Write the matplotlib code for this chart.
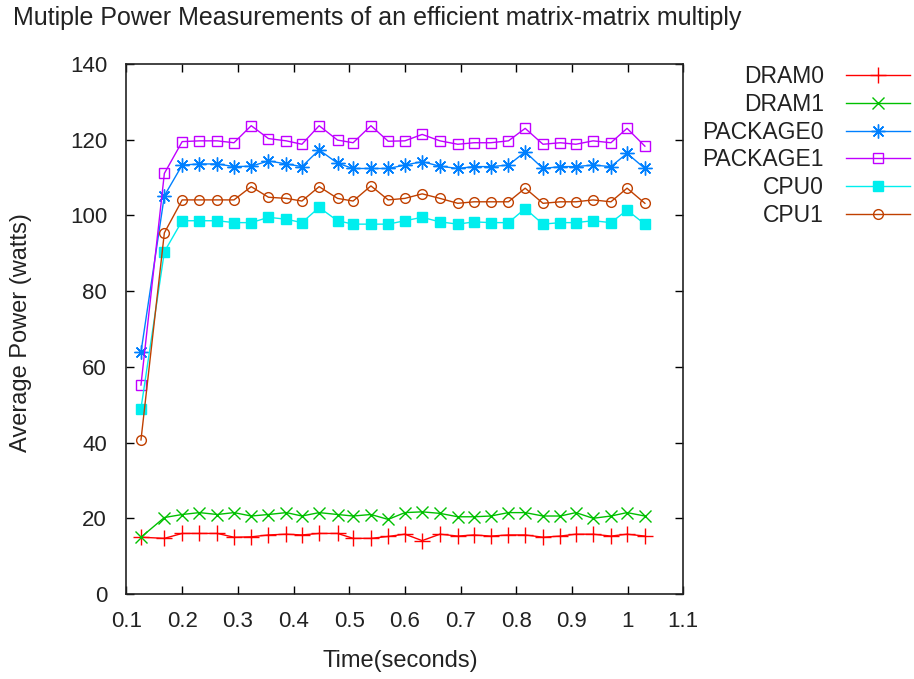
import matplotlib
matplotlib.use("Agg")
import matplotlib.pyplot as plt

plt.rcParams['font.family'] = ['Liberation Sans', 'DejaVu Sans']

time_s = [0.126, 0.168, 0.200, 0.231, 0.263, 0.293, 0.324, 0.355, 0.387, 0.415,
          0.446, 0.479, 0.507, 0.539, 0.570, 0.600, 0.631, 0.663, 0.695, 0.724,
          0.754, 0.786, 0.816, 0.848, 0.879, 0.907, 0.938, 0.970, 0.999, 1.031]

dram0 = [15.0, 14.7, 16.0, 16.0, 16.0, 15.0, 15.1, 15.6, 15.8, 15.6,
         16.0, 16.0, 14.7, 14.7, 15.2, 15.8, 14.1, 15.8, 15.3, 15.6,
         15.3, 15.6, 15.6, 15.0, 15.3, 15.8, 15.8, 15.3, 15.8, 15.3]

dram1 = [15.0, 20.2, 21.0, 21.5, 21.0, 21.5, 20.6, 21.0, 21.5, 20.6,
         21.5, 21.0, 20.6, 21.0, 19.7, 21.5, 21.7, 21.3, 20.4, 20.4,
         20.6, 21.5, 21.5, 20.6, 20.6, 21.5, 20.0, 20.6, 21.5, 20.6]

package0 = [63.9, 105.2, 113.3, 113.6, 113.6, 112.9, 113.0, 114.4, 113.6, 112.9,
            117.3, 113.8, 112.4, 112.4, 112.4, 113.3, 114.2, 113.0, 112.4, 112.9,
            112.9, 113.3, 116.8, 112.4, 112.9, 112.9, 113.3, 112.9, 116.4, 112.4]

package1 = [55.2, 111.1, 119.5, 119.7, 119.7, 119.2, 123.7, 120.3, 119.7, 118.8,
            123.7, 119.9, 119.2, 123.7, 119.6, 119.7, 121.4, 119.7, 118.8, 119.2,
            119.2, 119.7, 123.0, 118.8, 119.2, 118.8, 119.7, 119.2, 123.0, 118.3]

cpu0 = [49.0, 90.4, 98.6, 98.6, 98.6, 98.1, 98.1, 99.5, 99.0, 98.1,
        102.1, 98.6, 97.7, 97.7, 97.7, 98.6, 99.5, 98.3, 97.7, 98.3,
        98.1, 98.1, 101.8, 97.7, 98.1, 98.1, 98.6, 98.1, 101.4, 97.7]

cpu1 = [40.7, 95.4, 104.1, 104.1, 104.1, 104.1, 107.6, 104.8, 104.5, 103.8,
        107.6, 104.5, 103.8, 107.8, 104.1, 104.5, 105.7, 104.5, 103.2, 103.6,
        103.6, 103.6, 107.2, 103.2, 103.6, 103.6, 104.1, 103.6, 107.2, 103.2]

series_names = ["DRAM0", "DRAM1", "PACKAGE0", "PACKAGE1", "CPU0", "CPU1"]
series_values = [dram0, dram1, package0, package1, cpu0, cpu1]
colors = ["#ff0000", "#00c000", "#0080ff", "#c000ff", "#00eeee", "#c04000"]
markers = ["+", "x", (8, 2, 0), "s", "s", "o"]
fills = ["full", "full", "full", "none", "full", "none"]
msizes = [11, 8, 10, 7, 7.5, 7]

title = "Mutiple Power Measurements of an efficient matrix-matrix multiply"
x_ticks = [0.1, 0.2, 0.3, 0.4, 0.5, 0.6, 0.7, 0.8, 0.9, 1.0, 1.1]
x_tick_labels = ["0.1", "0.2", "0.3", "0.4", "0.5", "0.6", "0.7", "0.8", "0.9", "1", "1.1"]
y_ticks = [0, 20, 40, 60, 80, 100, 120, 140]

W, H = 914, 679
fig = plt.figure(figsize=(W / 100, H / 100), dpi=100)
L, R, T, B = 126.5, 683.3, 64, 594
ax = fig.add_axes([L / W, 1 - B / H, (R - L) / W, (B - T) / H])

for name, vals, c, m, f, ms in zip(series_names, series_values, colors, markers, fills, msizes):
    ax.plot(time_s, vals, color=c, marker=m, fillstyle=f, markersize=ms,
            markeredgewidth=1.0, linewidth=1.0, label=name)

ax.set_xlim(0.1, 1.1)
ax.set_ylim(0, 140)
ax.set_xticks(x_ticks)
ax.set_xticklabels(x_tick_labels)
ax.set_yticks(y_ticks)
ax.tick_params(direction='in', top=True, right=True, length=6, width=1,
               labelsize=16, colors='black', labelcolor='#222222')
ax.tick_params(axis='x', pad=12)
ax.tick_params(axis='y', pad=14)
for s in ax.spines.values():
    s.set_linewidth(1.2)
    s.set_color('#222222')

ax.set_xlabel("Time(seconds)", fontsize=17, color='#222222')
ax.set_ylabel("Average Power (watts)", fontsize=17, color='#222222')
ax.xaxis.set_label_coords((400 - L) / (R - L), (B - 650) / (B - T))
ax.yaxis.set_label_coords((32 - L) / (R - L), (B - 333) / (B - T))

fig.text(13 / W, 1 - 18 / H, title, ha='left', va='center', fontsize=18, color='#222222')

leg = fig.legend(loc='upper right', bbox_to_anchor=(910 / W, 1 - 65 / H),
                 markerfirst=False, frameon=False, fontsize=16.5,
                 handlelength=2.8, handletextpad=0.95, labelspacing=0.21,
                 borderpad=0, borderaxespad=0)
for t in leg.get_texts():
    t.set_color('#222222')

fig.savefig("out.png", dpi=100)
